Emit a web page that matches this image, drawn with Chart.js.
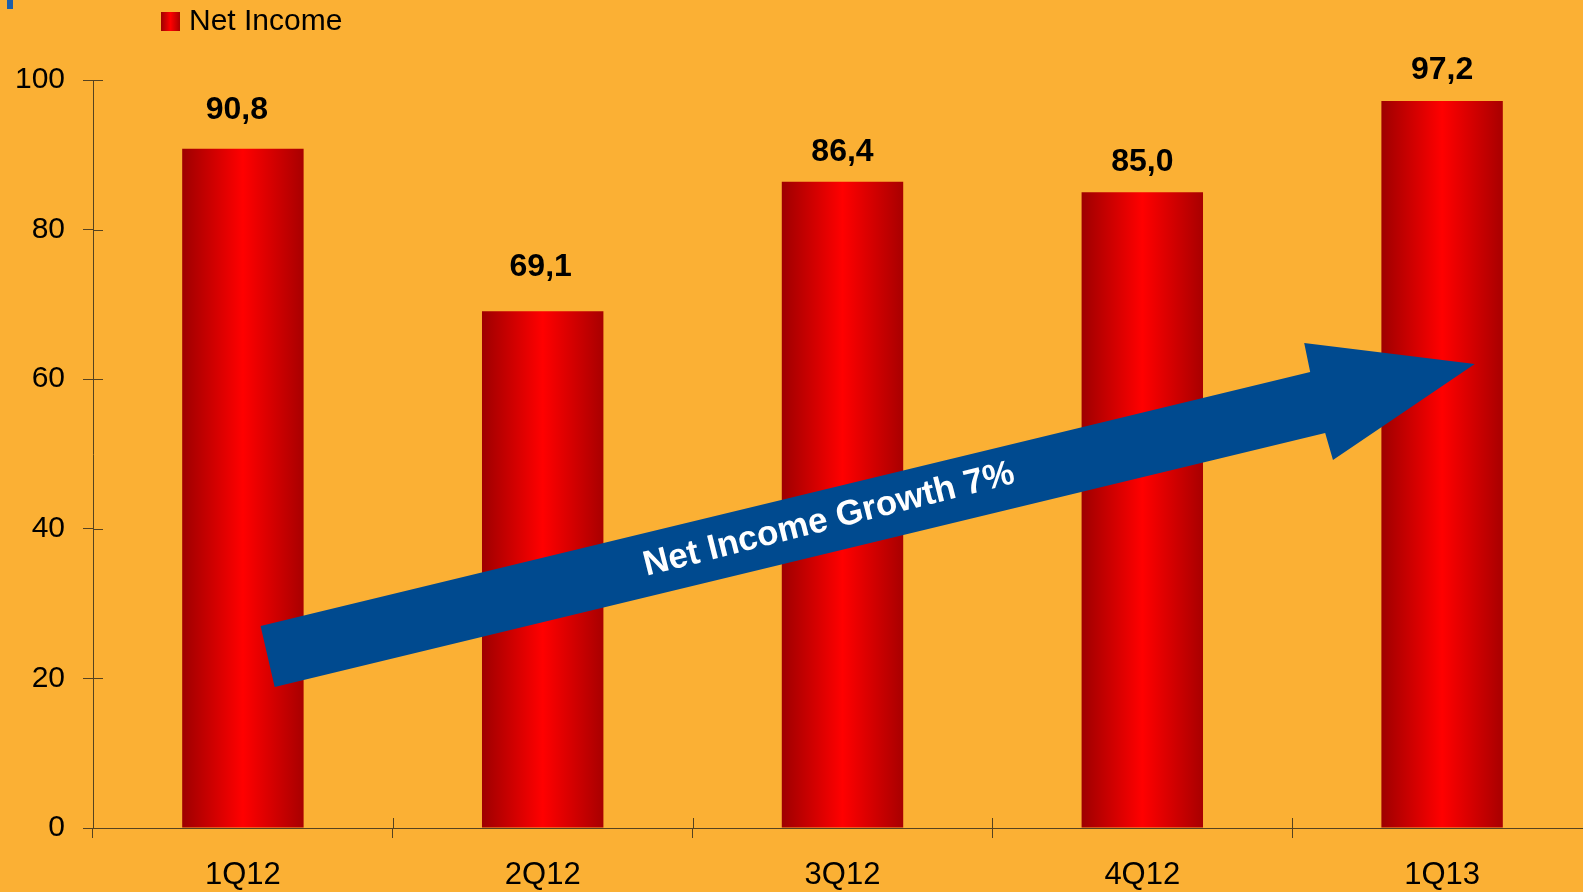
<!DOCTYPE html>
<html>
<head>
<meta charset="utf-8">
<script src="https://cdn.jsdelivr.net/npm/chart.js@4.4.1/dist/chart.umd.min.js"></script>
<style>
  html, body { margin: 0; padding: 0; background: #fbb034; overflow: hidden; }
  #wrap { width: 1600px; height: 892px; }
</style>
</head>
<body>
<div id="wrap"><canvas id="plot" width="1600" height="892"></canvas></div>
<script>
// data
const quarters = ['1Q12', '2Q12', '3Q12', '4Q12', '1Q13'];
const netIncome = [90.8, 69.1, 86.4, 85.0, 97.2];
const yTicks = [0, 20, 40, 60, 80, 100];
const seriesName = 'Net Income';
const arrowText = 'Net Income Growth 7%';

const FONT = '"Liberation Sans", Arial, sans-serif';
const AXIS_COLOR = '#55421f';
const ARROW_COLOR = '#004a8f';

const ctx = document.getElementById('plot');

function barGradient(c, left, right) {
  const g = c.createLinearGradient(left, 0, right, 0);
  g.addColorStop(0, '#9e0000');
  g.addColorStop(0.5, '#ff0000');
  g.addColorStop(1, '#a80000');
  return g;
}

// bars: horizontal dark-bright-dark gradient
function barFill(context) {
  const chart = context.chart;
  const x = chart.scales.x;
  if (!chart.chartArea || !x) return '#e00000';
  const cx = x.getPixelForValue(context.dataIndex);
  const w = (x.width / quarters.length) * 0.405;
  return barGradient(chart.ctx, cx - w / 2, cx + w / 2);
}

// short inner halves of the axis ticks, value labels, arrow and legend
const decorations = {
  id: 'decorations',
  afterDatasetsDraw(chart) {
    const c = chart.ctx;
    const x = chart.scales.x, y = chart.scales.y;
    const meta = chart.getDatasetMeta(0);

    // value labels (placed by hand in the original, so small offsets)
    const gaps = [39, 44, 30, 30, 31];
    const shifts = [-6, -2, 0, 0, 0];
    c.save();
    c.fillStyle = '#000';
    c.font = 'bold 32px ' + FONT;
    c.textAlign = 'center';
    c.textBaseline = 'middle';
    meta.data.forEach((bar, i) => {
      const txt = netIncome[i].toFixed(1).replace('.', ',');
      c.fillText(txt, bar.x + shifts[i], bar.y - gaps[i]);
    });
    c.restore();

    // growth arrow, defined in (category index, value) space
    const shape = [
      [0.059, 27.0], [3.560, 60.96], [3.540, 64.84], [4.109, 62.03],
      [3.636, 49.20], [3.610, 52.81], [0.106, 18.85]
    ];
    const pts = shape.map(p => [x.getPixelForValue(p[0]), y.getPixelForValue(p[1])]);
    c.save();
    c.fillStyle = ARROW_COLOR;
    c.beginPath();
    pts.forEach((p, i) => i ? c.lineTo(p[0], p[1]) : c.moveTo(p[0], p[1]));
    c.closePath();
    c.fill();
    const ang = Math.atan2(pts[1][1] - pts[0][1], pts[1][0] - pts[0][0]) - 0.01;
    const tx = x.getPixelForValue(1.955), ty = y.getPixelForValue(41.2);
    c.translate(tx, ty);
    c.rotate(ang);
    c.fillStyle = '#fff';
    c.font = 'bold 35px ' + FONT;
    c.textAlign = 'center';
    c.textBaseline = 'middle';
    c.fillText(arrowText, 0, 0);
    c.restore();
  },
  afterDraw(chart) {
    const c = chart.ctx;
    const x = chart.scales.x, y = chart.scales.y;
    const area = chart.chartArea;
    c.save();
    c.strokeStyle = AXIS_COLOR;
    c.lineWidth = 1;
    c.beginPath();
    y.ticks.forEach(t => {
      const py = Math.round(y.getPixelForValue(t.value)) + 0.5;
      c.moveTo(area.left, py);
      c.lineTo(area.left + 10, py);
    });
    const step = x.width / quarters.length;
    for (let i = 1; i <= quarters.length; i++) {
      const px = Math.round(area.left + step * i) + 0.5;
      c.moveTo(px, area.bottom);
      c.lineTo(px, area.bottom - 10);
    }
    c.stroke();

    // legend
    c.fillStyle = barGradient(c, 161, 180);
    c.fillRect(161, 12, 19, 19);
    c.fillStyle = '#000';
    c.font = '30px ' + FONT;
    c.textAlign = 'left';
    c.textBaseline = 'middle';
    c.fillText(chart.data.datasets[0].label, 189, 22);

    // small blue mark in the corner
    c.fillStyle = '#1f5fa8';
    c.fillRect(7, 0, 6, 9);
    c.restore();
  }
};

const config = {
  type: 'bar',
  data: {
    labels: quarters,
    datasets: [{
      label: seriesName,
      data: netIncome,
      backgroundColor: barFill,
      borderWidth: 0,
      barPercentage: 0.405,
      categoryPercentage: 1.0
    }]
  },
  options: {
    responsive: false,
    animation: false,
    layout: { padding: { top: 80, right: 8, left: 0, bottom: 0 } },
    plugins: {
      legend: { display: false },
      tooltip: { enabled: false }
    },
    scales: {
      x: {
        z: 1,
        offset: true,
        grid: {
          offset: true,
          drawOnChartArea: false,
          drawTicks: true,
          tickLength: 10,
          color: AXIS_COLOR,
          lineWidth: 1
        },
        border: { display: true, color: AXIS_COLOR, width: 1 },
        ticks: {
          color: '#000',
          font: { family: FONT, size: 31 },
          padding: 19,
          maxRotation: 0
        },
        afterFit: s => { s.height = 64; }
      },
      y: {
        z: 1,
        min: 0,
        max: 100,
        afterBuildTicks: s => { s.ticks = yTicks.map(v => ({ value: v })); },
        grid: {
          drawOnChartArea: false,
          drawTicks: true,
          tickLength: 10,
          color: AXIS_COLOR,
          lineWidth: 1
        },
        border: { display: true, color: AXIS_COLOR, width: 1 },
        ticks: {
          color: '#000',
          font: { family: FONT, size: 30 },
          padding: 18
        },
        afterFit: s => { s.width = 93; }
      }
    }
  },
  plugins: [decorations]
};

const chart = new Chart(ctx, config);
</script>
</body>
</html>
